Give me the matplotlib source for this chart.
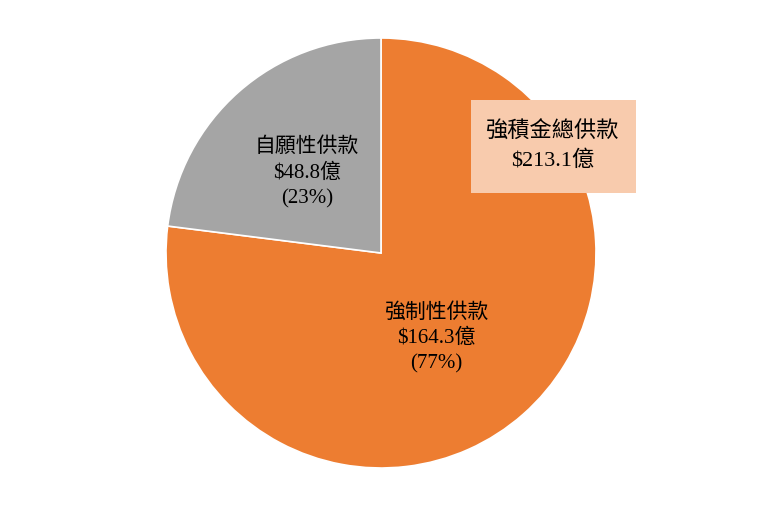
import matplotlib.pyplot as plt

labels = ['強制性供款', '自願性供款']
amounts = ['$164.3億', '$48.8億']
shares = [77, 23]
colors = ['#ED7D31', '#A5A5A5']
total_label = '強積金總供款'
total_amount = '$213.1億'

fonts = ['Liberation Serif', 'Noto Sans CJK TC', 'DejaVu Sans']
plt.rcParams['font.family'] = fonts

fig = plt.figure(figsize=(7.8, 5.18), dpi=100)
ax = fig.add_axes([0, 0, 1, 1])
ax.set_xlim(0, 780)
ax.set_ylim(0, 518)
ax.set_aspect('equal')
ax.axis('off')

ax.pie(shares, colors=colors, startangle=90, counterclock=False,
       center=(381, 265), radius=215, frame=True,
       wedgeprops=dict(edgecolor='white', linewidth=1.2))
ax.set_xlim(0, 780)
ax.set_ylim(0, 518)
ax.axis('off')

pos = [(436, 180), (307, 345)]
for (x, y), lab, amt, s in zip(pos, labels, amounts, shares):
    ax.text(x, y, f'{lab}\n{amt}\n({s}%)', ha='center', va='center',
            fontsize=15, linespacing=1.45)

ax.add_patch(plt.Rectangle((471, 325), 165, 93, facecolor='#F8CBAD', edgecolor='none'))
ax.text(553, 372, f'{total_label}\n{total_amount}', ha='center', va='center',
        fontsize=16, linespacing=1.5)

fig.savefig('out.png', dpi=100)
